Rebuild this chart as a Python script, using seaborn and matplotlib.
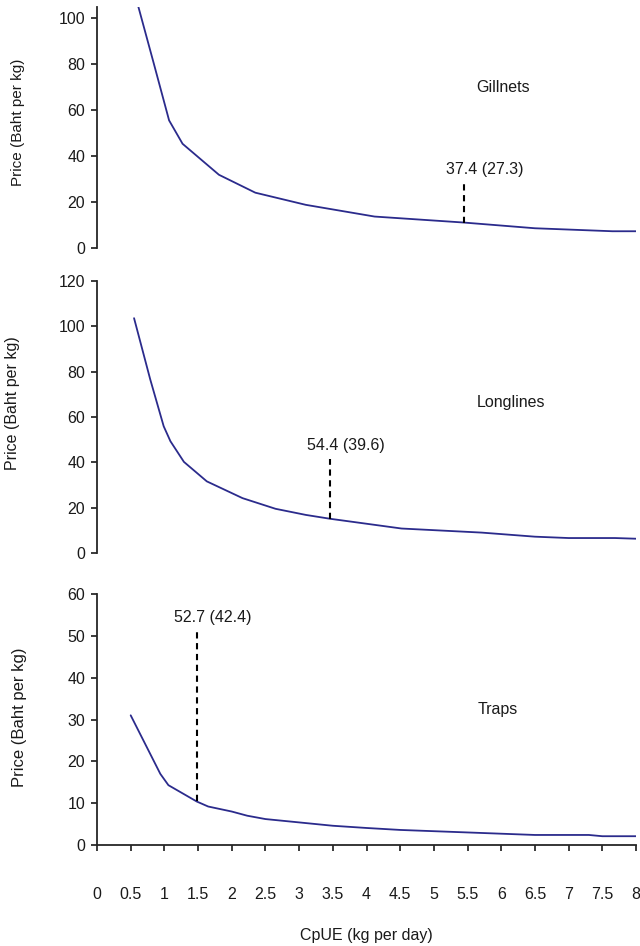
import matplotlib
matplotlib.use("Agg")
import matplotlib.pyplot as plt
import seaborn as sns
import pandas as pd

# ---- data ----
gill_x = [0.55, 0.84, 1.07, 1.27, 1.81, 2.35, 3.1, 4.12, 5.44, 6.5, 7.65, 8.0]
gill_y = [112, 80.7, 55.6, 45.4, 31.9, 24.1, 18.8, 13.7, 11.1, 8.6, 7.3, 7.3]

long_x = [0.55, 0.79, 0.99, 1.09, 1.29, 1.63, 2.16, 2.65, 3.1, 3.46, 4.52, 5.71, 6.5, 7.0, 7.69, 8.0]
long_y = [103.6, 76.6, 55.9, 49.3, 40.2, 31.6, 24.2, 19.5, 16.8, 15.1, 10.8, 9.0, 7.2, 6.6, 6.6, 6.3]

trap_x = [0.5, 0.94, 1.06, 1.48, 1.65, 2.0, 2.23, 2.5, 3.0, 3.5, 4.0, 4.5, 5.0, 5.5, 6.0, 6.5, 7.3, 7.5, 8.0]
trap_y = [31.0, 17.0, 14.3, 10.4, 9.2, 8.0, 7.0, 6.2, 5.4, 4.6, 4.07, 3.6, 3.3, 3.0, 2.7, 2.4, 2.4, 2.1, 2.1]

panel_names = ["Gillnets", "Longlines", "Traps"]
marker_x = [5.44, 3.46, 1.48]
marker_top = [29.7, 41.6, 51.6]
marker_bottom = [11.1, 15.1, 10.4]
marker_labels = ["37.4 (27.3)", "54.4 (39.6)", "52.7 (42.4)"]
label_pos = [(5.75, 34.0), (3.70, 47.5), (1.72, 54.3)]
name_pos = [(6.03, 70.0), (6.15, 66.5), (5.95, 32.5)]
y_limits = [105, 120, 60]
y_ticks = [list(range(0, 101, 20)), list(range(0, 121, 20)), list(range(0, 61, 10))]
x_ticks = [i * 0.5 for i in range(17)]
x_tick_labels = ["0", "0.5", "1", "1.5", "2", "2.5", "3", "3.5", "4", "4.5",
                 "5", "5.5", "6", "6.5", "7", "7.5", "8"]

sns.set_style("ticks")
plt.rcParams['font.family'] = ['Liberation Sans', 'DejaVu Sans']

W, H = 640, 946
fig = plt.figure(figsize=(W / 100, H / 100), dpi=100)

left = 97 / W
width = (636 - 97) / W
boxes = [(7, 248), (281, 553), (594, 845)]  # (top px, bottom px)
ylabel_x_px = [18, 13, 20]
ylabel_y_frac = [0.52, 0.55, 0.51]
ylabel_sizes = [11, 11.5, 12]

line_color = "#2b2b8c"
text_color = "#1a1a1a"
series = [(gill_x, gill_y), (long_x, long_y), (trap_x, trap_y)]

for i in range(3):
    top_px, bot_px = boxes[i]
    ax_h = bot_px - top_px
    ax = fig.add_axes([left, 1 - bot_px / H, width, ax_h / H])
    df = pd.DataFrame({"CpUE": series[i][0], "Price": series[i][1]})
    sns.lineplot(data=df, x="CpUE", y="Price", ax=ax, color=line_color,
                 linewidth=1.3, sort=False, estimator=None)
    ax.set_xlim(0, 8)
    ax.set_ylim(0, y_limits[i])
    ax.set_yticks(y_ticks[i])
    ax.tick_params(axis="y", labelsize=11.5, length=4.5, width=1.2, pad=4, colors=text_color)
    ax.set_ylabel("Price (Baht per kg)", fontsize=ylabel_sizes[i], color=text_color)
    ax.yaxis.label.set_va("center")
    ax.yaxis.set_label_coords((ylabel_x_px[i] - 97) / 539, ylabel_y_frac[i])
    for s in ["top", "right"]:
        ax.spines[s].set_visible(False)
    ax.spines["left"].set_linewidth(1.3)
    if i < 2:
        ax.spines["bottom"].set_visible(False)
        ax.set_xticks([])
        ax.set_xlabel("")
    else:
        ax.spines["bottom"].set_linewidth(1.3)
        ax.set_xticks(x_ticks)
        ax.set_xticklabels(x_tick_labels)
        ax.tick_params(axis="x", labelsize=11.5, length=4.5, width=1.2, pad=26, colors=text_color)
        ax.set_xlabel("CpUE (kg per day)", fontsize=11.5, color=text_color)
        ax.xaxis.label.set_va("center")
        ax.xaxis.set_label_coords(0.5, (845 - 935) / ax_h)
    ax.plot([marker_x[i], marker_x[i]], [marker_bottom[i], marker_top[i]],
            color="black", linestyle=(0, (3, 2.2)), linewidth=1.5)
    ax.text(label_pos[i][0], label_pos[i][1], marker_labels[i], ha="center", va="center",
            fontsize=11.5, color=text_color)
    ax.text(name_pos[i][0], name_pos[i][1], panel_names[i], ha="center", va="center",
            fontsize=11.5, color=text_color)
    ax.set_facecolor("white")

fig.savefig("out.png", dpi=100, facecolor="white")
